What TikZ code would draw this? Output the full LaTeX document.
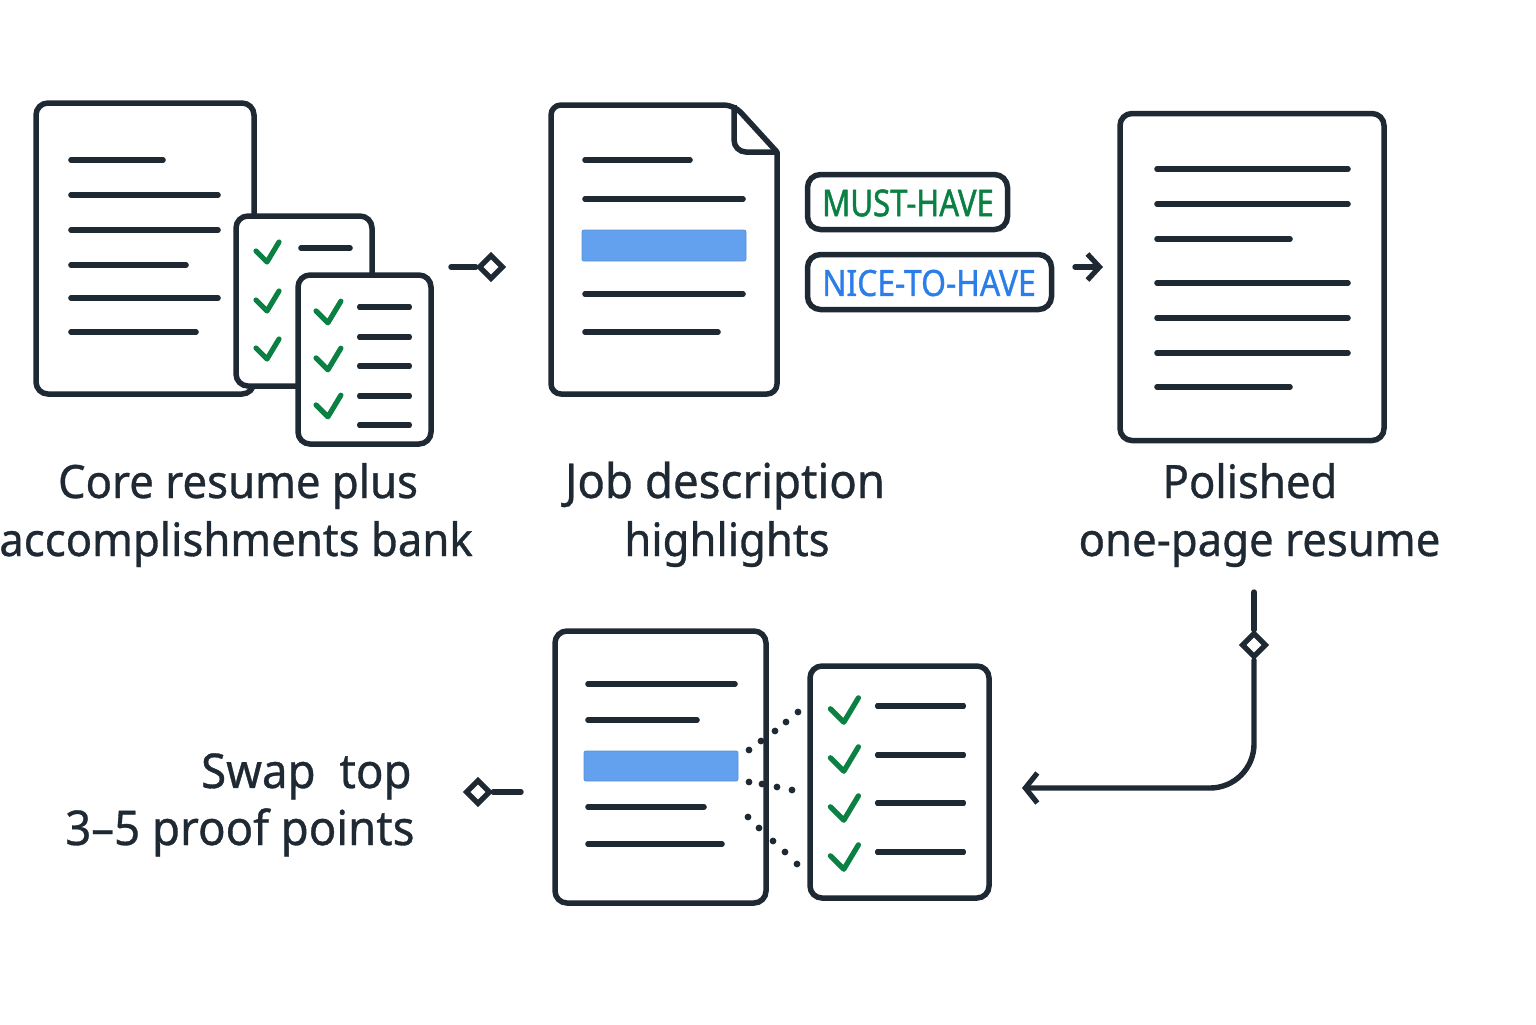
\documentclass[tikz,border=0pt]{standalone}
\usepackage{fontspec}
\setmainfont[FakeStretch=0.95,FakeBold=0.7]{Noto Sans}
\newfontfamily\tagfont[FakeStretch=0.88,FakeBold=0.9]{Noto Sans}
\newfontfamily\tagfontbold[FakeStretch=0.84,FakeBold=1.3]{Noto Sans}
\usetikzlibrary{arrows.meta,shapes.geometric}
\definecolor{ink}{HTML}{1F2933}
\definecolor{okgreen}{HTML}{0B8043}
\definecolor{niceblue}{HTML}{2B7DE9}
\definecolor{marker}{HTML}{63A1EE}

\newcommand{\chk}[2][1]{\draw[check mark, shift={#2}, scale=#1] (-12,-1) -- (-1,10) -- (11,-10);}

\begin{document}
\begin{tikzpicture}[
    x=0.5pt, y=-0.5pt,
    sheet/.style 2 args={draw=ink, line width=2.75pt, fill=white, rounded corners=6pt, inner sep=0pt, minimum width=#1*0.5pt, minimum height=#2*0.5pt},
    text line/.style={draw=ink, line width=2.8pt, line cap=round},
    check mark/.style={draw=okgreen, line width=2.6pt, line cap=round, line join=round},
    connection/.style={draw=ink, line width=2.7pt, line cap=round},
    joint/.style={diamond, draw=ink, line width=2.7pt, fill=white, aspect=1, inner sep=0pt, minimum size=12.5pt},
    tag/.style={draw=ink, line width=2.75pt, fill=white, rounded corners=6.5pt, inner sep=0pt, minimum height=27.5pt},
    tag label/.style={font=\tagfont\fontsize{18.1}{20}\selectfont},
    caption/.style={anchor=base, inner sep=0pt, font=\fontsize{23}{28}\selectfont, text=ink},
    wide caption/.style={caption, font=\fontsize{24}{28}\selectfont},
    blue bar/.style={fill=marker, draw=marker!90!black, line width=0.4pt, rounded corners=1pt},
    dot/.style={circle, fill=ink, inner sep=0pt, minimum size=3.4pt}
]
\useasboundingbox (0,0) rectangle (1536,1024);

% Core resume
\node[sheet={218}{291}] (core) at (145,248.5) {};
\foreach \xb/\yy in {163/160, 218/195, 218/230, 186/265, 218/298, 196/332}
    \draw[text line] (71,\yy) -- (\xb,\yy);

% Accomplishments bank
\node[sheet={136}{170}] (bankA) at (304,301) {};
\chk{(268,252)}
\chk{(268,301)}
\chk{(268,349)}
\draw[text line] (301,248) -- (350,248);
\node[sheet={133}{169}] (bankB) at (364.5,359.5) {};
\foreach \yy in {312,359,406}
    \chk[1.08]{(329,\yy)}
\foreach \yy in {307,337,366,396,425}
    \draw[text line] (360,\yy) -- (409,\yy);

\node[caption] (capA) at (238,498) {Core resume plus};
\node[caption] (capB) at (236,556) {accomplishments bank};

% First connector
\node[joint] (jointA) at (491,267) {};
\coordinate (startA) at (451,267);
\draw[connection] (startA) -- (jointA);

% Job description
\draw[draw=ink, line width=2.75pt, fill=white, rounded corners=5pt, line join=round]
    (777,152) -- (777,394) -- (551,394) -- (551,105) -- (734,105) [sharp corners] -- cycle;
\draw[draw=ink, line width=2.75pt, rounded corners=6pt] (734,105) -- (734,152) -- (777,152);
\foreach \xb/\yy in {690/160, 743/199, 743/294, 718/332}
    \draw[text line] (585,\yy) -- (\xb,\yy);
\draw[blue bar] (582,230) rectangle (746,261);

\node[wide caption] (capC) at (725,498) {Job description};
\node[caption] (capD) at (727,556) {highlights};

% Priority tags
\node[tag, minimum width=100pt] (must) at (907.5,202) {};
\node[tag label, text=okgreen, font=\tagfontbold\fontsize{18.5}{20}\selectfont] (mustText) at (908,203) {MUST-HAVE};
\node[tag, minimum width=122pt] (nice) at (929.5,282) {};
\node[tag label, text=niceblue] (niceText) at (929,283) {NICE-TO-HAVE};

% Second connector
\coordinate (startB) at (1075,267);
\coordinate (endB) at (1103,267);
\draw[connection, -{Straight Barb[length=6pt, width=13pt, line width=2.6pt]}] (startB) -- (endB);

% Polished resume
\node[sheet={264}{327}] (final) at (1252,277) {};
\foreach \xb/\yy in {1348/169, 1348/204, 1290/239, 1348/283, 1348/318, 1348/353, 1290/387}
    \draw[text line] (1157,\yy) -- (\xb,\yy);

\node[caption] (capE) at (1250,498) {Polished};
\node[caption] (capF) at (1259.5,556) {one-page resume};

% Third connector
\node[joint] (jointC) at (1254,645) {};
\coordinate (startC) at (1254,592);
\coordinate (endC) at (1022,788);
\draw[connection] (startC) -- (jointC);
\draw[connection, rounded corners=22pt, -{Straight Barb[length=6pt, width=15pt, line width=2.6pt]}] (jointC.south) |- (endC);

% Tailored resume
\node[sheet={211}{272}] (tailored) at (660.5,767) {};
\foreach \xb/\yy in {735/684, 697/720, 704/807, 722/844}
    \draw[text line] (588,\yy) -- (\xb,\yy);
\draw[blue bar] (584,751) rectangle (738,781);

% Proof points
\node[sheet={179}{232}] (proof) at (899.5,782) {};
\foreach \yy in {710,759,808,857}
    \chk[1.22]{(845,\yy)}
\foreach \yy in {706,755,803,852}
    \draw[text line] (878,\yy) -- (963,\yy);

% Dotted links
\foreach \i/\xx/\yy in {a/798/712, b/786/722, c/775/731, d/761/741, e/749/750,
                        f/749/782, g/762/784, h/777/787, k/792/790,
                        l/748/817, m/759/828, n/773/841, o/785/852, p/797/864}
    \node[dot] (dot\i) at (\xx,\yy) {};

% Fourth connector
\node[joint] (jointD) at (478,792) {};
\coordinate (startD) at (521,792);
\draw[connection] (startD) -- (jointD);

\node[wide caption, anchor=base east] (capG) at (412,788) {Swap\hspace{0.25em} top};
\node[wide caption, anchor=base east] (capH) at (415,845) {3--5 proof points};

\end{tikzpicture}
\end{document}
